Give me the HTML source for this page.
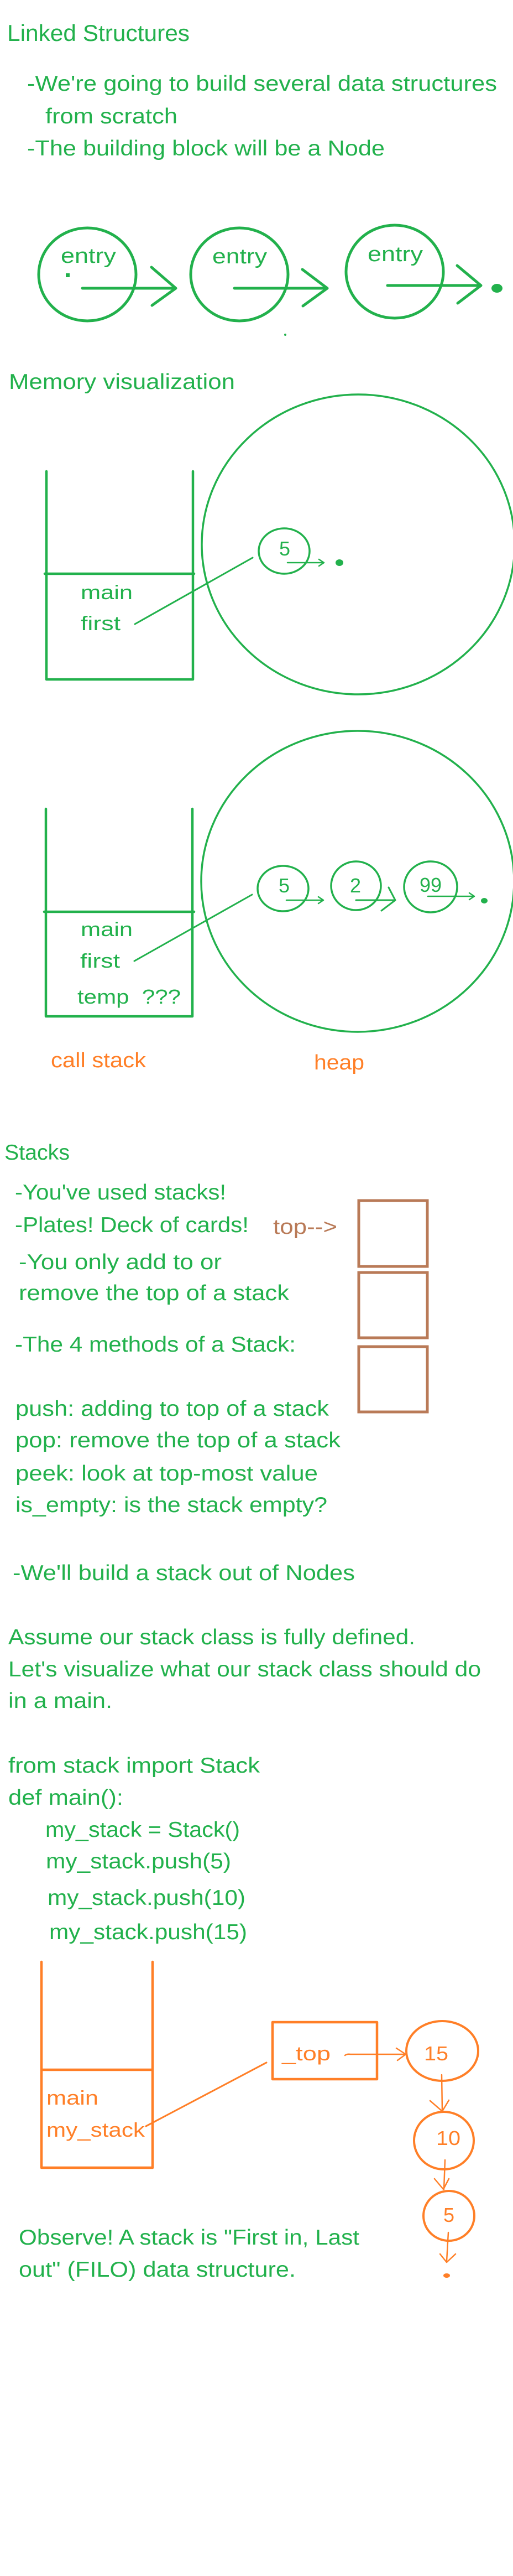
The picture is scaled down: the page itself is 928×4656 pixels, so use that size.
<!DOCTYPE html>
<html><head><meta charset="utf-8"><style>
html,body{margin:0;padding:0;background:#fff;}
svg{display:block;}
text{font-family:"Liberation Sans",sans-serif;}
.g{fill:#22b14c;}
.o{fill:#ff7f27;}
.b{fill:#b97a57;}
</style></head><body>
<svg width="928" height="4656" viewBox="0 0 928 4656" xmlns="http://www.w3.org/2000/svg">
<rect width="928" height="4656" fill="#fff"/>
<g fill="none" stroke="#22b14c" stroke-linecap="round" stroke-linejoin="round">
  <ellipse cx="158" cy="496" rx="88" ry="84" stroke-width="5"/>
  <ellipse cx="433" cy="496" rx="88" ry="84" stroke-width="5"/>
  <ellipse cx="714" cy="491" rx="88" ry="84" stroke-width="5"/>
  <path d="M149 521H318M274 483L318 521L275 552" stroke-width="5"/>
  <path d="M424 521H592M547 487L592 521L548 553" stroke-width="5"/>
  <path d="M701 516H870M827 480L870 516L828 548" stroke-width="5"/>
  <path d="M84 852V1228H349V852M81 1037H351" stroke-width="4.5"/>
  <path d="M244 1128L457 1008" stroke-width="3"/>
  <ellipse cx="648" cy="984" rx="283" ry="271" stroke-width="3.5"/>
  <ellipse cx="514" cy="996" rx="46" ry="41" stroke-width="3.5"/>
  <path d="M520 1017H586M577 1011L586 1017L577 1023" stroke-width="2.5"/>
  <path d="M83 1462V1837H348V1462M80 1648H351" stroke-width="4.5"/>
  <path d="M243 1737L456 1617" stroke-width="3"/>
  <ellipse cx="647" cy="1593" rx="283" ry="272" stroke-width="3.5"/>
  <ellipse cx="512" cy="1606" rx="46" ry="41" stroke-width="3.5"/>
  <ellipse cx="644" cy="1601" rx="45" ry="44" stroke-width="3.5"/>
  <ellipse cx="779" cy="1603" rx="48" ry="46" stroke-width="3.5"/>
  <path d="M518 1627H585M576 1621L585 1627L576 1633" stroke-width="2.5"/>
  <path d="M644 1627H715M703 1604L715 1627L690 1646" stroke-width="3"/>
  <path d="M774 1620H858M849 1614L858 1620L849 1626" stroke-width="2.5"/>
</g>
<g fill="#22b14c">
  <rect x="119" y="494" width="7" height="7"/>
  <ellipse cx="899" cy="521" rx="10" ry="8"/>
  <circle cx="516" cy="605" r="2"/>
  <ellipse cx="614" cy="1017" rx="7" ry="6"/>
  <ellipse cx="876" cy="1628" rx="6" ry="5"/>
</g>
<g fill="none" stroke="#b97a57" stroke-width="5">
  <rect x="649" y="2170" width="124" height="119"/>
  <rect x="649" y="2300" width="124" height="118"/>
  <rect x="649" y="2434" width="124" height="118"/>
</g>
<g fill="none" stroke="#ff7f27" stroke-linecap="round" stroke-linejoin="round">
  <path d="M75 3546V3918H276V3546M75 3741H276" stroke-width="4.5"/>
  <path d="M264 3843L482 3728" stroke-width="3"/>
  <rect x="493" y="3655" width="189" height="103" stroke-width="4.5"/>
  <path d="M624 3715Q628 3712 634 3713H734M717 3702L734 3713L719 3724" stroke-width="2.5"/>
  <ellipse cx="800" cy="3707" rx="65" ry="54" stroke-width="4"/>
  <path d="M799 3750L800 3816M778 3797L800 3816L812 3796" stroke-width="2.5"/>
  <ellipse cx="803" cy="3869" rx="54" ry="52" stroke-width="4"/>
  <path d="M805 3904L803 3957M786 3938L802 3957L812 3938" stroke-width="2.5"/>
  <ellipse cx="812" cy="4005" rx="46" ry="45" stroke-width="4"/>
  <path d="M811 4035L808 4087M796 4074L808 4089L824 4074" stroke-width="2.5"/>
</g>
<ellipse cx="808" cy="4113" rx="6" ry="4" fill="#ff7f27"/>

<g class="g" font-size="39">
  <text x="13" y="74" font-size="42" textLength="330" lengthAdjust="spacingAndGlyphs">Linked Structures</text>
  <text x="49" y="164" textLength="850" lengthAdjust="spacingAndGlyphs">-We're going to build several data structures</text>
  <text x="82" y="223" textLength="239" lengthAdjust="spacingAndGlyphs">from scratch</text>
  <text x="49" y="281" textLength="647" lengthAdjust="spacingAndGlyphs">-The building block will be a Node</text>
  <text x="110" y="475" font-size="38" textLength="100" lengthAdjust="spacingAndGlyphs">entry</text>
  <text x="384" y="476" font-size="38" textLength="99" lengthAdjust="spacingAndGlyphs">entry</text>
  <text x="665" y="472" font-size="38" textLength="100" lengthAdjust="spacingAndGlyphs">entry</text>
  <text x="16" y="703" textLength="409" lengthAdjust="spacingAndGlyphs">Memory visualization</text>
  <text x="146" y="1083" font-size="36" textLength="94" lengthAdjust="spacingAndGlyphs">main</text>
  <text x="146" y="1139" font-size="36" textLength="72" lengthAdjust="spacingAndGlyphs">first</text>
  <text x="515" y="1004" font-size="36" text-anchor="middle">5</text>
  <text x="146" y="1692" font-size="36" textLength="94" lengthAdjust="spacingAndGlyphs">main</text>
  <text x="145" y="1749" font-size="36" textLength="72" lengthAdjust="spacingAndGlyphs">first</text>
  <text x="140" y="1814" font-size="36" textLength="187" lengthAdjust="spacingAndGlyphs" xml:space="preserve">temp  ???</text>
  <text x="514" y="1613" font-size="36" text-anchor="middle">5</text>
  <text x="643" y="1613" font-size="36" text-anchor="middle">2</text>
  <text x="779" y="1612" font-size="36" text-anchor="middle">99</text>
  <text x="8" y="2096" textLength="118" lengthAdjust="spacingAndGlyphs">Stacks</text>
  <text x="27" y="2168" textLength="382" lengthAdjust="spacingAndGlyphs">-You've used stacks!</text>
  <text x="27" y="2227" textLength="423" lengthAdjust="spacingAndGlyphs">-Plates! Deck of cards!</text>
  <text x="34" y="2294" textLength="367" lengthAdjust="spacingAndGlyphs">-You only add to or</text>
  <text x="34" y="2350" textLength="489" lengthAdjust="spacingAndGlyphs">remove the top of a stack</text>
  <text x="27" y="2443" textLength="508" lengthAdjust="spacingAndGlyphs">-The 4 methods of a Stack:</text>
  <text x="28" y="2559" textLength="567" lengthAdjust="spacingAndGlyphs">push: adding to top of a stack</text>
  <text x="28" y="2616" textLength="588" lengthAdjust="spacingAndGlyphs">pop: remove the top of a stack</text>
  <text x="28" y="2676" textLength="547" lengthAdjust="spacingAndGlyphs">peek: look at top-most value</text>
  <text x="28" y="2733" textLength="564" lengthAdjust="spacingAndGlyphs">is_empty: is the stack empty?</text>
  <text x="23" y="2856" textLength="619" lengthAdjust="spacingAndGlyphs">-We'll build a stack out of Nodes</text>
  <text x="15" y="2972" textLength="736" lengthAdjust="spacingAndGlyphs">Assume our stack class is fully defined.</text>
  <text x="15" y="3030" textLength="855" lengthAdjust="spacingAndGlyphs">Let's visualize what our stack class should do</text>
  <text x="15" y="3087" textLength="188" lengthAdjust="spacingAndGlyphs">in a main.</text>
  <text x="15" y="3204" textLength="455" lengthAdjust="spacingAndGlyphs">from stack import Stack</text>
  <text x="15" y="3262" textLength="208" lengthAdjust="spacingAndGlyphs">def main():</text>
  <text x="82" y="3320" textLength="352" lengthAdjust="spacingAndGlyphs">my_stack = Stack()</text>
  <text x="83" y="3377" textLength="335" lengthAdjust="spacingAndGlyphs">my_stack.push(5)</text>
  <text x="86" y="3443" textLength="358" lengthAdjust="spacingAndGlyphs">my_stack.push(10)</text>
  <text x="89" y="3505" textLength="358" lengthAdjust="spacingAndGlyphs">my_stack.push(15)</text>
  <text x="34" y="4057" textLength="616" lengthAdjust="spacingAndGlyphs">Observe! A stack is "First in, Last</text>
  <text x="34" y="4115" textLength="501" lengthAdjust="spacingAndGlyphs">out" (FILO) data structure.</text>
</g>
<g class="o" font-size="38">
  <text x="92" y="1929" textLength="172" lengthAdjust="spacingAndGlyphs">call stack</text>
  <text x="568" y="1933" textLength="91" lengthAdjust="spacingAndGlyphs">heap</text>
  <text x="84" y="3804" font-size="36" textLength="94" lengthAdjust="spacingAndGlyphs">main</text>
  <text x="84" y="3862" font-size="36" textLength="178" lengthAdjust="spacingAndGlyphs">my_stack</text>
  <text x="510" y="3724" font-size="36" textLength="88" lengthAdjust="spacingAndGlyphs">_top</text>
  <text x="767" y="3724" font-size="36" textLength="44" lengthAdjust="spacingAndGlyphs">15</text>
  <text x="789" y="3877" font-size="36" textLength="44" lengthAdjust="spacingAndGlyphs">10</text>
  <text x="812" y="4016" font-size="36" text-anchor="middle">5</text>
</g>
<text class="b" x="494" y="2230" font-size="38" textLength="116" lengthAdjust="spacingAndGlyphs">top--&gt;</text>
</svg>
</body></html>
